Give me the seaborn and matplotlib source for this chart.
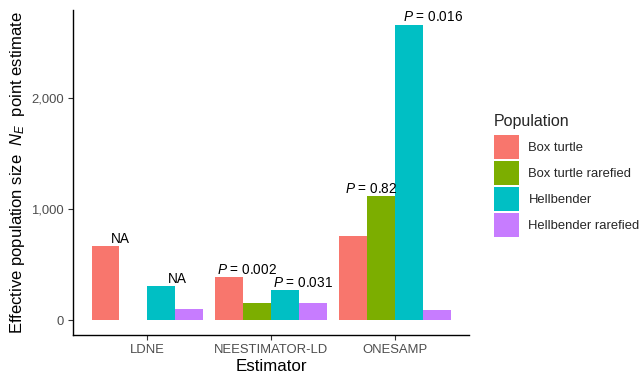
import numpy as np
import pandas as pd
import matplotlib
matplotlib.use("Agg")
import matplotlib.pyplot as plt
import seaborn as sns

# Point estimates of effective population size by estimator and population
estimators = ["LDNE", "NEESTIMATOR-LD", "ONESAMP"]
populations = ["Box turtle", "Box turtle rarefied", "Hellbender", "Hellbender rarefied"]
ne_box_turtle = [667, 387, 760]
ne_box_turtle_rarefied = [np.nan, 150, 1117]
ne_hellbender = [308, 270, 2664]
ne_hellbender_rarefied = [100, 150, 93]

# Text annotations: (estimator, population, label)
annot_estimator = ["LDNE", "LDNE", "NEESTIMATOR-LD", "NEESTIMATOR-LD", "ONESAMP", "ONESAMP"]
annot_population = ["Box turtle", "Hellbender", "Box turtle", "Hellbender",
                    "Box turtle rarefied", "Hellbender"]
annot_text = ["NA", "NA", "$P$ = 0.002", "$P$ = 0.031", "$P$ = 0.82", "$P$ = 0.016"]
annot_dx = [0.045, 0.05, -0.10, -0.10, -0.29, -0.05]

palette = ["#F8766D", "#7CAE00", "#00BFC4", "#C77CFF"]

series = [ne_box_turtle, ne_box_turtle_rarefied, ne_hellbender, ne_hellbender_rarefied]
df = pd.DataFrame({
    "Estimator": np.repeat(estimators, len(populations)),
    "Population": populations * len(estimators),
    "Ne": [series[j][i] for i in range(len(estimators)) for j in range(len(populations))],
})

sns.set_theme(style="white")
plt.rcParams["font.family"] = ["Liberation Sans", "DejaVu Sans"]
plt.rcParams["mathtext.fontset"] = "custom"
plt.rcParams["mathtext.rm"] = "Liberation Sans"
plt.rcParams["mathtext.it"] = "Liberation Sans:italic"

fig = plt.figure(figsize=(6.44, 3.75), dpi=100)
ax = fig.add_axes([0.1134, 0.107, 0.615, 0.866])

width = 0.9
sns.barplot(data=df, x="Estimator", y="Ne", hue="Population", order=estimators,
            hue_order=populations, palette=palette, width=width, saturation=1,
            errorbar=None, ax=ax, linewidth=0)

# Annotate bars
bar_w = width / len(populations)
for est, pop, txt, dx in zip(annot_estimator, annot_population, annot_text, annot_dx):
    i = estimators.index(est)
    j = populations.index(pop)
    xc = i + (j - (len(populations) - 1) / 2) * bar_w
    val = df.loc[(df.Estimator == est) & (df.Population == pop), "Ne"].iloc[0]
    ax.annotate(txt, (xc + dx, val), xytext=(0, 0.3), textcoords="offset points",
                ha="left", va="bottom", fontsize=9.8, color="black")

ymax = np.nanmax(df["Ne"].values)
ax.set_ylim(-0.05 * ymax, 1.05 * ymax)
ax.set_xlim(-0.6, len(estimators) - 0.4)
ax.set_yticks([0, 1000, 2000])
ax.set_yticklabels(["0", "1,000", "2,000"])

for side in ["top", "right"]:
    ax.spines[side].set_visible(False)
for side in ["left", "bottom"]:
    ax.spines[side].set_color("black")
    ax.spines[side].set_linewidth(1.0)

ax.tick_params(axis="both", which="major", length=3.5, width=0.8, color="#333333",
               labelcolor="#4D4D4D", labelsize=9.4, pad=3, left=True, bottom=True)

ax.set_xlabel("Estimator", fontsize=12.2, color="black", labelpad=2.5)
ax.set_ylabel("Effective population size  $N_E$  point estimate", fontsize=12,
              color="black", labelpad=3)

leg = ax.legend(title="Population", loc="upper left",
                bbox_to_anchor=(494 / 644, 1 - 114 / 375), bbox_transform=fig.transFigure,
                frameon=False, fontsize=9.35, title_fontsize=11.5, borderpad=0,
                handlelength=1.95, handleheight=2.4, labelspacing=0.2,
                handletextpad=0.7, alignment="left", borderaxespad=0)
leg._legend_box.sep = 4.5

fig.savefig("out.png", dpi=100)
